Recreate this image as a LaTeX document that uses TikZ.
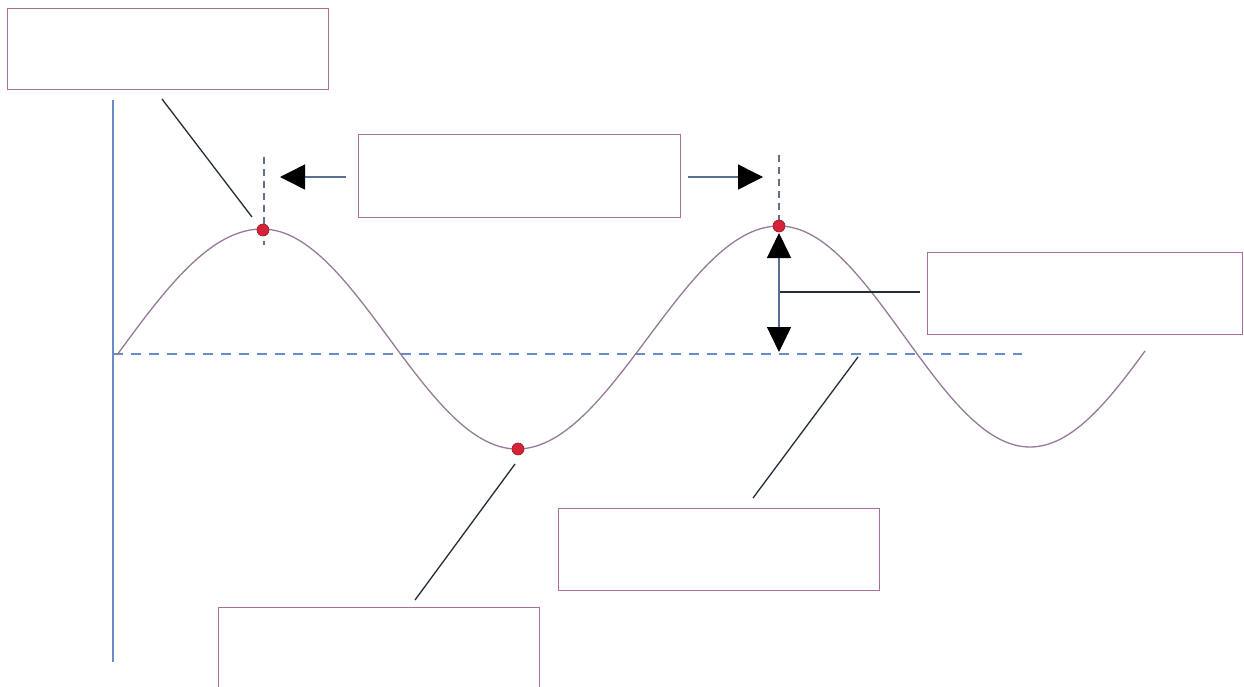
\documentclass[tikz,border=0pt]{standalone}
\usetikzlibrary{arrows.meta}
\definecolor{boxline}{RGB}{170,112,150}
\definecolor{wave}{RGB}{150,122,152}
\definecolor{axisblue}{RGB}{105,140,200}
\definecolor{shaft}{RGB}{90,110,150}
\definecolor{leader}{RGB}{35,45,55}
\definecolor{dotred}{RGB}{215,35,55}
\definecolor{guide}{RGB}{100,112,140}

\begin{document}
\begin{tikzpicture}[x=1pt,y=-1pt,
  labelbox/.style={draw=boxline, line width=1.1pt, inner sep=0pt, anchor=north west},
  peakdot/.style={circle, fill=dotred, draw=dotred!70!black, line width=0.6pt, minimum size=12pt, inner sep=0pt},
  leaderline/.style={draw=leader, line width=1.3pt},
  guideline/.style={draw=guide, line width=1.2pt, dash pattern=on 7pt off 5pt},
  wavecurve/.style={draw=wave, line width=1.3pt},
  bigtip/.style={-{Triangle[length=25pt,width=25pt,color=black]}},
  shaftline/.style={draw=shaft, line width=1.5pt}]

\useasboundingbox (0,0) rectangle (1244,686);
\clip (0,0) rectangle (1244,686);
\fill[white] (0,0) rectangle (1244,686);

% empty label boxes
\node[labelbox, minimum width=321pt, minimum height=81pt] (boxA) at (7,8) {};
\node[labelbox, minimum width=322pt, minimum height=83pt] (boxB) at (358,134) {};
\node[labelbox, minimum width=315pt, minimum height=82pt] (boxC) at (927,252) {};
\node[labelbox, minimum width=321pt, minimum height=82pt] (boxD) at (558,508) {};
\node[labelbox, minimum width=321pt, minimum height=100pt] (boxE) at (218,607) {};

% axis and rest line
\coordinate (axtop) at (113,100);
\coordinate (axbot) at (113,662);
\coordinate (restL) at (113,354);
\coordinate (restR) at (1022,354);
\draw[axisblue, line width=1.2pt] (axtop) -- (axbot);
\draw[axisblue, line width=1.3pt, dash pattern=on 10pt off 8pt] (restL) -- (restR);

% the wave, built from cosine pieces between its turning points
\draw[wavecurve]
  plot[domain=117:262, samples=40] (\x, {355 - 126*sin((90/145)*(\x-117))})
  -- plot[domain=262:517, samples=60] (\x, {339 - 110*cos((180/255)*(\x-262))})
  -- plot[domain=517:779, samples=60] (\x, {337.5 + 111.5*cos((180/262)*(\x-517))})
  -- plot[domain=779:1030, samples=60] (\x, {336.5 - 110.5*cos((180/251)*(\x-779))})
  -- plot[domain=1030:1145, samples=30] (\x, {336.5 + 110.5*cos((180/251)*(\x-1030))});

% vertical guides through the crests
\coordinate (g1top) at (264,157);
\coordinate (g1bot) at (264,245);
\coordinate (g2top) at (779,155);
\coordinate (g2bot) at (779,222);
\draw[guideline] (g1top) -- (g1bot);
\draw[guideline] (g2top) -- (g2bot);

% wavelength arrows
\coordinate (wlL0) at (346,177);
\coordinate (wlL1) at (280,177);
\coordinate (wlR0) at (688,177);
\coordinate (wlR1) at (763,177);
\draw[shaftline, bigtip] (wlL0) -- (wlL1);
\draw[shaftline, bigtip] (wlR0) -- (wlR1);

% amplitude arrow
\coordinate (ampTop) at (779,233);
\coordinate (ampBot) at (779,352);
\draw[shaftline, {Triangle[length=25pt,width=24pt,color=black]}-{Triangle[length=25pt,width=24pt,color=black]}] (ampTop) -- (ampBot);

% marked points
\node[peakdot] (crest1) at (263,230) {};
\node[peakdot] (crest2) at (779,226) {};
\node[peakdot] (trough1) at (518,449) {};

% leader lines
\coordinate (lA0) at (162,99);
\coordinate (lA1) at (252,217);
\coordinate (lC0) at (780,292);
\coordinate (lC1) at (920,292);
\coordinate (lD0) at (858,357);
\coordinate (lD1) at (753,498);
\coordinate (lE0) at (515,464);
\coordinate (lE1) at (415,600);
\draw[leaderline] (lA0) -- (lA1);
\draw[leaderline] (lC0) -- (lC1);
\draw[leaderline] (lD0) -- (lD1);
\draw[leaderline] (lE0) -- (lE1);
\end{tikzpicture}
\end{document}
